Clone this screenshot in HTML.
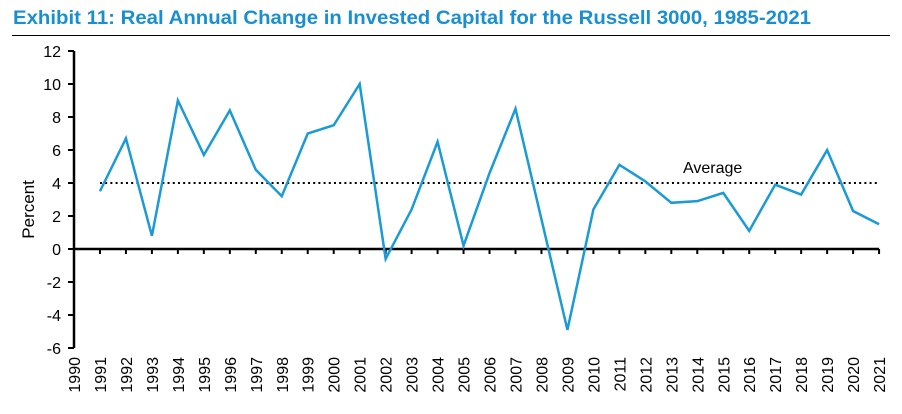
<!DOCTYPE html>
<html><head><meta charset="utf-8"><style>
body{margin:0;background:#fff;width:902px;height:409px;overflow:hidden;font-family:"Liberation Sans",Arial,sans-serif}
</style></head><body>
<svg width="902" height="409" xmlns="http://www.w3.org/2000/svg">
<text x="13" y="24" font-size="19.5" font-weight="bold" fill="#1a8fd0" textLength="798" lengthAdjust="spacingAndGlyphs">Exhibit 11: Real Annual Change in Invested Capital for the Russell 3000, 1985-2021</text>
<line x1="12" y1="35.5" x2="890" y2="35.5" stroke="#000" stroke-width="1"/>
<g id="g"></g>
</svg>
<script>
const years=[1990,1991,1992,1993,1994,1995,1996,1997,1998,1999,2000,2001,2002,2003,2004,2005,2006,2007,2008,2009,2010,2011,2012,2013,2014,2015,2016,2017,2018,2019,2020,2021];
const dataYears=[1991,1992,1993,1994,1995,1996,1997,1998,1999,2000,2001,2002,2003,2004,2005,2006,2007,2008,2009,2010,2011,2012,2013,2014,2015,2016,2017,2018,2019,2020,2021];
const values=[3.5,6.7,0.8,9.0,5.7,8.4,4.8,3.2,7.0,7.5,10.0,-0.6,2.4,6.5,0.2,4.6,8.5,1.8,-4.9,2.4,5.1,4.1,2.8,2.9,3.4,1.1,3.9,3.3,6.0,2.3,1.5];
const yTicks=[12,10,8,6,4,2,0,-2,-4,-6];
const average=[4];
const NS="http://www.w3.org/2000/svg";
const g=document.getElementById('g');
const X=y=>74+(y-1990)*25.97;
const Y=v=>249-v*16.5;
function mk(t,a){const e=document.createElementNS(NS,t);for(const k in a)e.setAttribute(k,a[k]);g.appendChild(e);return e;}
let e=mk('line',{x1:74,y1:Y(12),x2:74,y2:Y(-6),stroke:'#000','stroke-width':2.5});


yTicks.forEach(v=>{
 let t=mk('line',{x1:68,y1:Y(v),x2:74,y2:Y(v),stroke:'#000','stroke-width':2});
 
 
 let l=mk('text',{x:61,y:Y(v)+6,'font-size':16,'text-anchor':'end'});l.textContent=v;
 
 
});
e=mk('line',{x1:74,y1:Y(0),x2:X(2021),y2:Y(0),stroke:'#000','stroke-width':2.5});


years.forEach(yr=>{
 let t=mk('line',{x1:X(yr),y1:Y(0),x2:X(yr),y2:Y(0)+5,stroke:'#000','stroke-width':2});
 
 
 let l=mk('text',{x:0,y:0,'font-size':16,'text-anchor':'end',transform:`translate(${X(yr)+6},${357}) rotate(-90)`});l.textContent=yr;
 
 
});
e=mk('text',{x:0,y:0,'font-size':17,'text-anchor':'middle',transform:`translate(34,${Y(2.4)}) rotate(-90)`});e.textContent='Percent';


e=mk('line',{x1:X(1991),y1:Y(average[0]),x2:X(2021),y2:Y(average[0]),stroke:'#000','stroke-width':2,'stroke-dasharray':'2 3.2'});


e=mk('text',{x:683,y:Y(average[0])-10,'font-size':16});e.textContent='Average';


e=mk('polyline',{points:dataYears.map((y,i)=>X(y)+','+Y(values[i])).join(' '),fill:'none',stroke:'#1a9ad6','stroke-width':2.5,'stroke-linejoin':'miter'});


</script>
</body></html>
